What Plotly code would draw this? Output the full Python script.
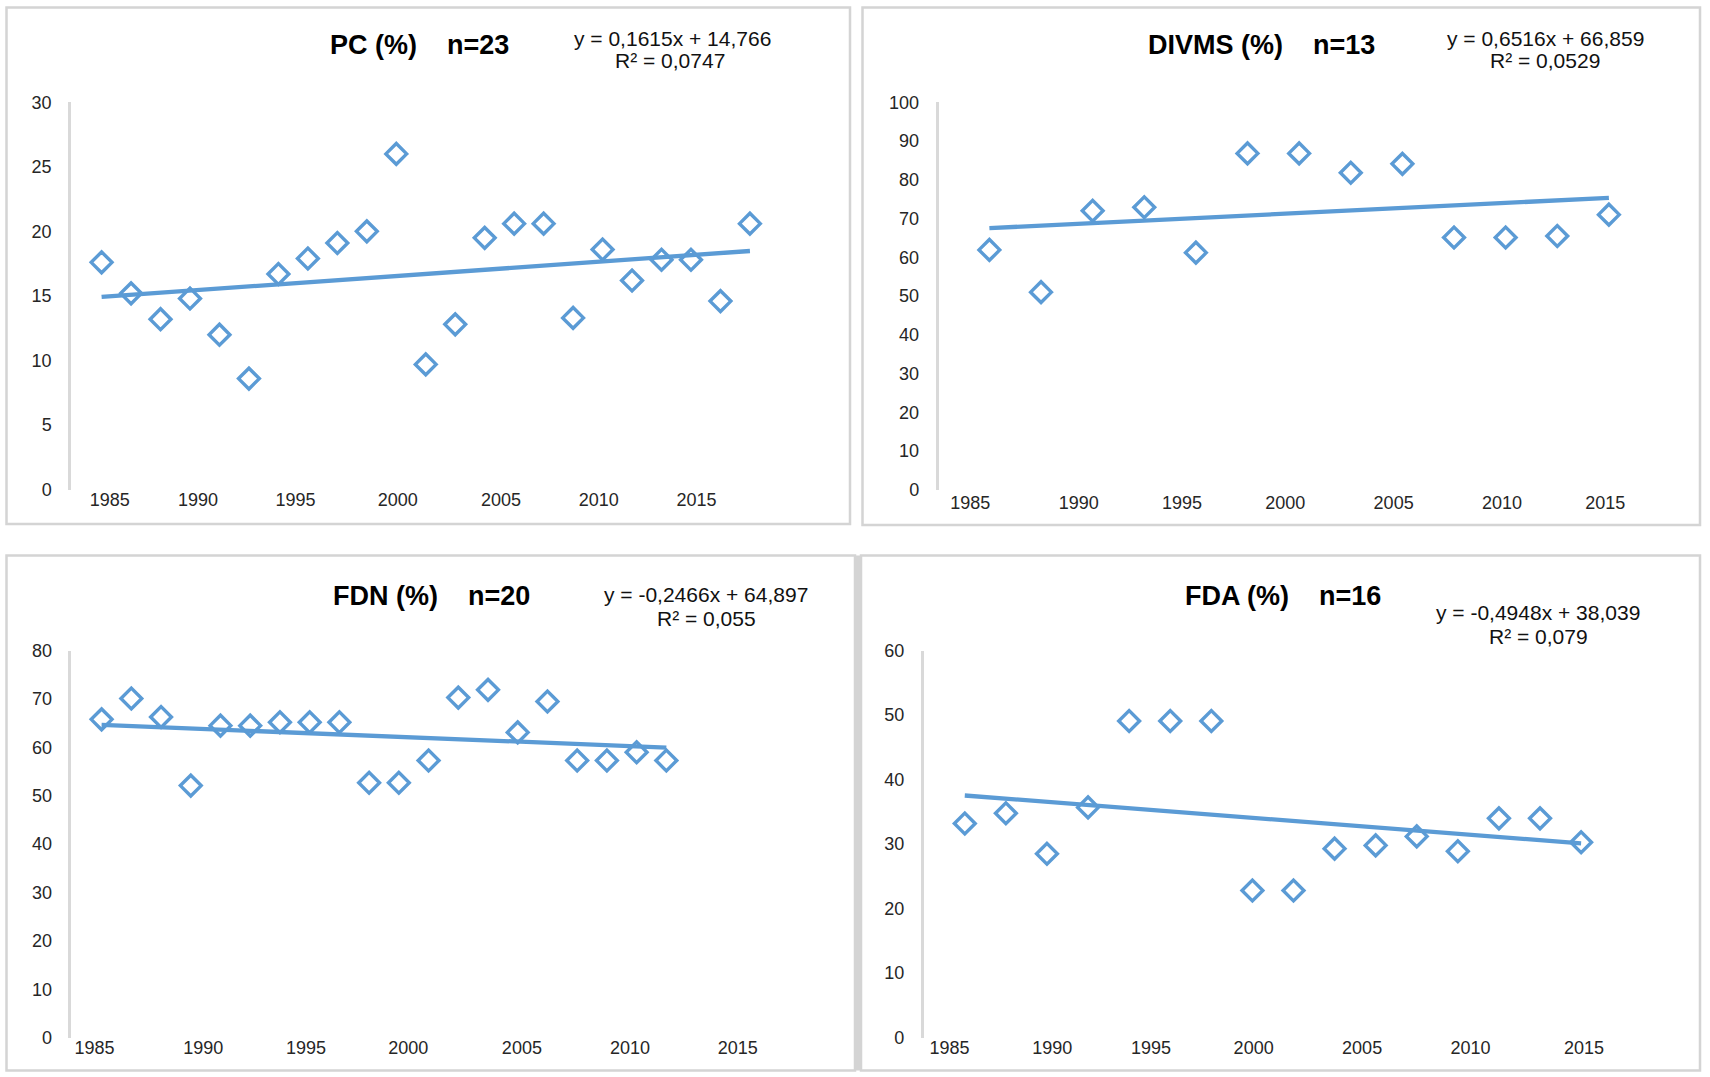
import plotly.graph_objects as go

W, H = 1710, 1077

# year labels under each panel
years = [1985, 1990, 1995, 2000, 2005, 2010, 2015]

# values per sample (x = sample number 1..n)
pc = [17.6, 15.2, 13.2, 14.8, 12.0, 8.6, 16.7, 17.9, 19.1, 20.0, 26.0, 9.7,
      12.8, 19.5, 20.6, 20.6, 13.3, 18.6, 16.2, 17.8, 17.8, 14.6, 20.6]
divms = [61.9, 51.0, 72.0, 72.9, 61.2, 86.8, 86.8, 81.8, 84.1, 65.1, 65.1,
         65.5, 71.0]
fdn = [65.8, 70.1, 66.3, 52.1, 64.5, 64.5, 65.2, 65.2, 65.2, 52.7, 52.7, 57.3,
       70.3, 71.9, 63.1, 69.5, 57.3, 57.3, 59.0, 57.3]
fda = [33.2, 34.8, 28.5, 35.7, 49.1, 49.1, 49.1, 22.8, 22.8, 29.3, 29.8, 31.2,
       28.9, 34.0, 34.0, 30.3]

# linear trendlines as printed on the chart
slopes = [0.1615, 0.6516, -0.2466, -0.4948]
intercepts = [14.766, 66.859, 64.897, 38.039]
eq_text = ["y = 0,1615x + 14,766", "y = 0,6516x + 66,859",
           "y = -0,2466x + 64,897", "y = -0,4948x + 38,039"]
r2_text = ["R² = 0,0747", "R² = 0,0529", "R² = 0,055", "R² = 0,079"]
names = ["PC (%)", "DIVMS (%)", "FDN (%)", "FDA (%)"]
n_text = ["n=23", "n=13", "n=20", "n=16"]
series = [pc, divms, fdn, fda]

BLUE = "#5b9bd5"
FONT = "Arial, Liberation Sans, sans-serif"
SP = "\u00a0" * 4

# the photographed page comes out a bit squeezed vertically,
# so pixel targets are mapped onto that band
Y_OFF, Y_SPAN = 8.5, 1060.0


def fx(p):
    return p / W


def fy(p):
    return 1 - (p - Y_OFF) / Y_SPAN


# layout of each panel in pixels
panels = [
    dict(x=(71, 790), y=(101, 489.5), xr=(-0.038, 24.36), ymax=30, dt=5,
         ticks=[1.28, 4.27, 7.58, 11.05, 14.55, 17.87, 21.19], xso=-3,
         title=(419.5, 44), eq=(672, 37.5), r2=(670, 59.5)),
    dict(x=(938.5, 1660), y=(101, 489.7), xr=(0.014, 13.99), ymax=100, dt=10,
         ticks=[0.63, 2.73, 4.73, 6.73, 8.83, 10.93, 12.93], xso=0,
         title=(1261.5, 44), eq=(1545, 37.5), r2=(1545, 59.5)),
    dict(x=(71.4, 790), y=(651, 1039), xr=(-0.016, 24.16), ymax=80, dt=10,
         ticks=[0.76, 4.42, 7.88, 11.32, 15.14, 18.78, 22.4], xso=-3,
         title=(431.6, 596), eq=(706, 595), r2=(706.5, 619)),
    dict(x=(923.7, 1660), y=(651, 1039), xr=(0.0, 17.92), ymax=60, dt=10,
         ticks=[0.63, 3.13, 5.53, 8.03, 10.67, 13.31, 16.07], xso=-3,
         title=(1282.8, 596), eq=(1538, 613), r2=(1538, 637)),
]

fig = go.Figure()
annotations = []
layout_axes = {}

for k, (vals, p) in enumerate(zip(series, panels)):
    sfx = "" if k == 0 else str(k + 1)
    idx = list(range(1, len(vals) + 1))
    trend_x = [idx[0], idx[-1]]
    trend_y = [slopes[k] * x + intercepts[k] for x in trend_x]

    fig.add_trace(go.Scatter(
        x=idx, y=vals, mode="markers", xaxis="x" + sfx, yaxis="y" + sfx,
        marker=dict(symbol="diamond-open", size=16, color=BLUE,
                    line=dict(width=3.4, color=BLUE)),
        showlegend=False, hoverinfo="x+y"))
    fig.add_trace(go.Scatter(
        x=trend_x, y=trend_y, mode="lines", xaxis="x" + sfx, yaxis="y" + sfx,
        line=dict(color=BLUE, width=4.3), showlegend=False, hoverinfo="skip"))

    layout_axes["xaxis" + sfx] = dict(
        domain=[fx(p["x"][0]), fx(p["x"][1])], range=list(p["xr"]),
        anchor="y" + sfx, tickmode="array", tickvals=p["ticks"],
        ticktext=[str(y) for y in years], showgrid=False, zeroline=False,
        showline=False, ticklabelstandoff=p["xso"],
        tickfont=dict(family=FONT, size=18, color="#262626"))
    layout_axes["yaxis" + sfx] = dict(
        domain=[fy(p["y"][1]), fy(p["y"][0])], range=[0, p["ymax"]],
        anchor="x" + sfx, dtick=p["dt"], showgrid=False, zeroline=False,
        showline=True, linecolor="#d9d9d9", linewidth=2.5,
        ticklabelstandoff=13,
        tickfont=dict(family=FONT, size=18, color="#262626"))

    annotations.append(dict(
        text="<b>" + names[k] + SP + n_text[k] + "</b>",
        x=fx(p["title"][0]), y=fy(p["title"][1]), xref="paper",
        yref="paper", xanchor="center", yanchor="middle", showarrow=False,
        font=dict(family=FONT, size=27, color="#000000")))
    annotations.append(dict(
        text=eq_text[k], x=fx(p["eq"][0]), y=fy(p["eq"][1]),
        xref="paper", yref="paper", xanchor="center", yanchor="middle",
        showarrow=False, font=dict(family=FONT, size=21, color="#111111")))
    annotations.append(dict(
        text=r2_text[k], x=fx(p["r2"][0]), y=fy(p["r2"][1]),
        xref="paper", yref="paper", xanchor="center", yanchor="middle",
        showarrow=False, font=dict(family=FONT, size=21, color="#111111")))

# panel frames
boxes = [(6.5, 6, 850, 524), (862.5, 6, 1700, 525),
         (6.5, 555.5, 855, 1072), (861, 555.5, 1700, 1072)]
shapes = []
for x0, y0, x1, y1 in boxes:
    shapes.append(dict(type="rect", xref="paper", yref="paper",
                       x0=fx(x0), x1=fx(x1), y0=fy(y1), y1=fy(y0),
                       line=dict(color="#d4d4d4", width=2.5), layer="below"))
shapes.append(dict(type="rect", xref="paper", yref="paper",
                   x0=fx(854), x1=fx(861), y0=fy(1072), y1=fy(555.5),
                   fillcolor="#d4d4d4", line=dict(width=0), layer="below"))

fig.update_layout(
    width=W, height=H, margin=dict(l=0, r=0, t=0, b=0),
    paper_bgcolor="white", plot_bgcolor="white",
    annotations=annotations, shapes=shapes, **layout_axes)

# the page body has a default 8px margin; drop it so the figure fills the window
fig.write_html("out.html", config={"displayModeBar": False},
               post_script="document.body.style.margin = '0';")
